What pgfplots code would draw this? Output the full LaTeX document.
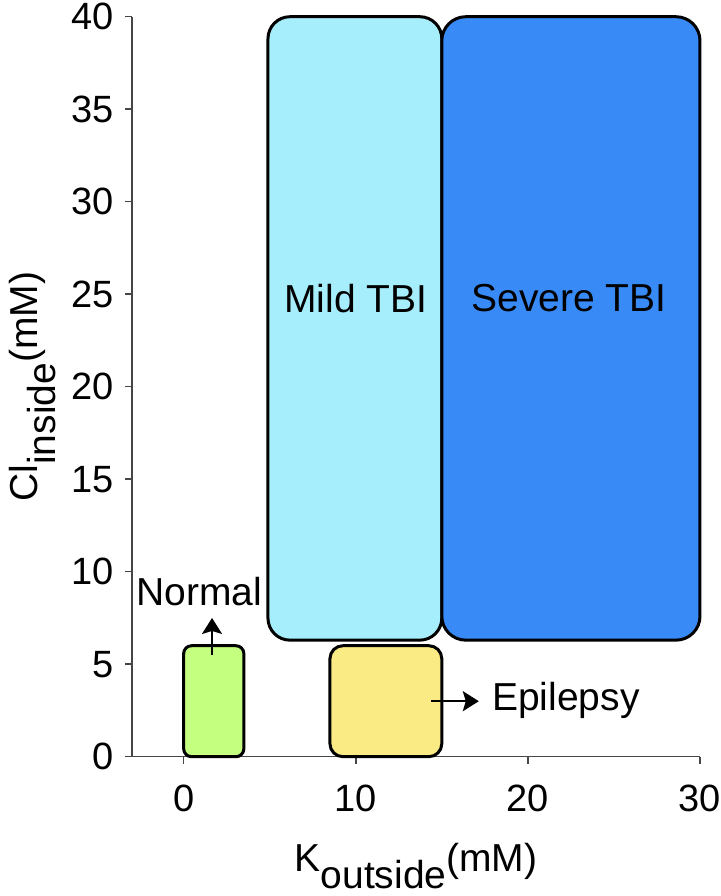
\documentclass[border=0pt]{standalone}
\usepackage{fontspec}
\setmainfont{Liberation Sans}
\usepackage{pgfplots}
\pgfplotsset{compat=1.18}
\usetikzlibrary{arrows.meta}
\definecolor{cnormal}{RGB}{197,255,128}
\definecolor{cepi}{RGB}{251,235,133}
\definecolor{cmild}{RGB}{166,238,251}
\definecolor{csevere}{RGB}{56,139,246}
\definecolor{axgray}{RGB}{70,70,70}
\begin{document}
\begin{tikzpicture}
\useasboundingbox (-66pt,-69.65pt) rectangle (294pt,378.35pt);
\begin{axis}[
  scale only axis, width=284pt, height=370pt,
  xmin=-3, xmax=30, ymin=0, ymax=40,
  axis x line*=bottom, axis y line*=left,
  xtick={0,10,20,30}, ytick={0,5,...,40},
  tick align=outside, major tick length=3.5pt,
  axis line style={draw=axgray, line width=0.75pt},
  every tick/.style={draw=axgray, line width=0.75pt},
  clip=false,
  /pgf/number format/assume math mode=true,
  ticklabel style={font=\fontsize{19}{19}\selectfont},
  xticklabel style={yshift=-7pt},
  yticklabel style={xshift=-2pt},
  xlabel={K\raisebox{-0.45em}{outside}(mM)},
  ylabel={Cl\raisebox{-0.45em}{inside}(mM)},
  xlabel style={font=\fontsize{19.5}{19.5}\selectfont, at={([yshift=-57.15pt]axis description cs:0.5,0)}, anchor=base},
  ylabel style={font=\fontsize{19.5}{19.5}\selectfont, at={([xshift=-47pt]axis description cs:0,0.5)}, anchor=base, rotate=0},
]
\addplot[draw=black, line width=1.5pt, fill=cnormal, rounded corners=4pt]
  coordinates {(0,0) (3.5,0) (3.5,6) (0,6)} -- cycle;
\addplot[draw=black, line width=1.5pt, fill=cepi, rounded corners=6.5pt]
  coordinates {(8.5,0) (15,0) (15,6) (8.5,6)} -- cycle;
\addplot[draw=black, line width=1.5pt, fill=cmild, rounded corners=11pt]
  coordinates {(4.9,6.3) (15,6.3) (15,40) (4.9,40)} -- cycle;
\addplot[draw=black, line width=1.5pt, fill=csevere, rounded corners=12pt]
  coordinates {(15,6.3) (30,6.3) (30,40) (15,40)} -- cycle;

\node[font=\fontsize{19.5}{19.5}\selectfont] at (axis cs:10,24.77) {Mild TBI};
\node[font=\fontsize{19.5}{19.5}\selectfont] at (axis cs:22.4,24.77) {Severe TBI};
\node[font=\fontsize{19.5}{19.5}\selectfont, anchor=base, inner sep=0pt] at (axis cs:0.9,8.2) {Normal};
\node[font=\fontsize{19.5}{19.5}\selectfont, anchor=base west, inner sep=0pt] at (axis cs:17.9,2.52) {Epilepsy};
\draw[line width=1pt, -{Stealth[length=8pt,width=10pt,inset=1.5pt]}] (axis cs:1.65,5.5) -- (axis cs:1.65,7.5);
\draw[line width=1pt, -{Stealth[length=8pt,width=10pt,inset=1.5pt]}] (axis cs:14.4,3.0) -- (axis cs:17.15,3.0);
\end{axis}
\end{tikzpicture}
\end{document}
